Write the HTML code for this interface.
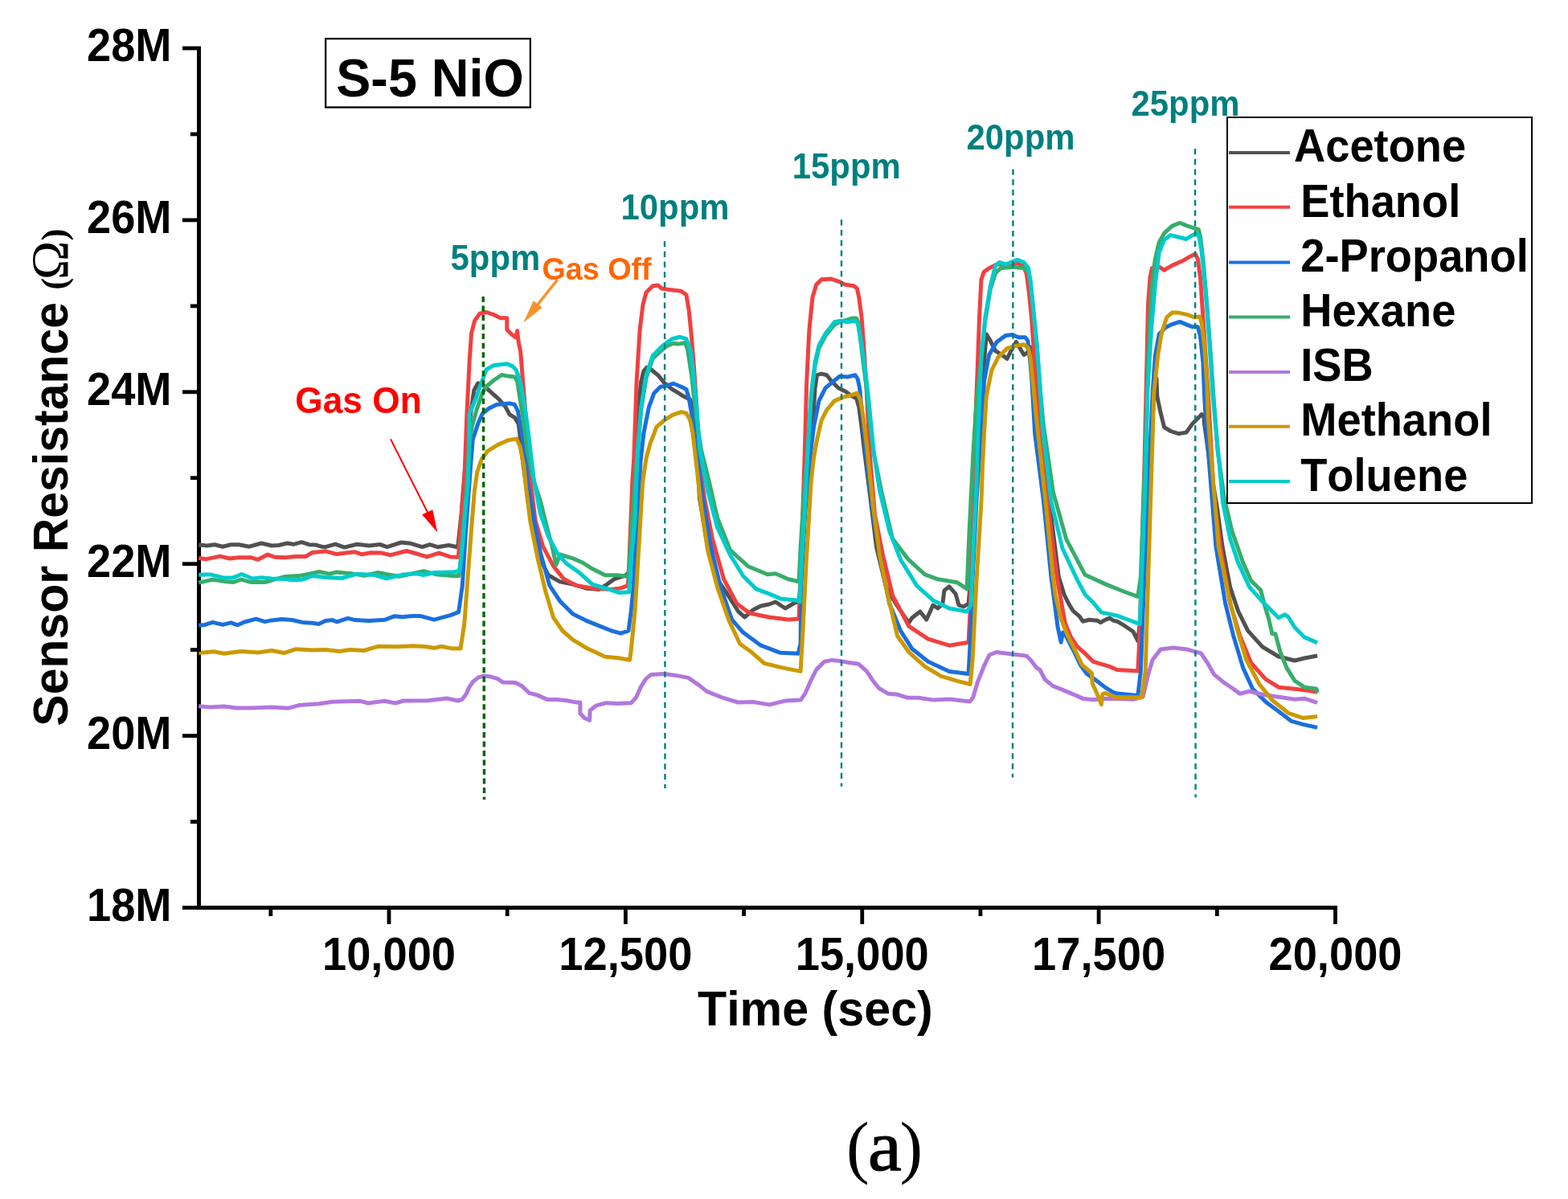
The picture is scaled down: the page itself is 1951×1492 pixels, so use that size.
<!DOCTYPE html>
<html><head><meta charset="utf-8"><title>S-5 NiO sensor response</title>
<style>html,body{margin:0;padding:0;background:#fff;} svg{display:block;} text{font-kerning:none;}</style>
</head><body>
<svg width="1951" height="1492" viewBox="0 0 1951 1492">
<rect x="0" y="0" width="1951" height="1492" fill="#fff"/>
<rect x="245" y="58" width="5" height="1074" fill="#000"/>
<rect x="245" y="1127" width="1419" height="5" fill="#000"/>
<polyline points="247.3,678.1 257.7,679.0 267.0,677.7 277.1,680.2 287.3,677.7 297.4,677.7 310.1,680.2 325.3,676.0 338.0,679.0 346.5,678.5 357.5,676.0 365.1,677.3 375.2,674.7 384.5,677.7 393.0,678.1 401.5,680.6 405.0,680.7 417.2,677.2 428.5,681.1 444.2,677.2 459.0,678.9 473.0,677.6 481.7,680.7 499.1,675.0 509.6,675.9 525.3,680.7 534.8,677.6 544.4,680.7 558.4,678.5 568.8,680.7 570.0,678.0 574.0,640.0 578.0,590.0 582.0,545.0 586.5,508.3 589.8,485.8 594.6,477.0 599.4,477.8 606.6,484.2 621.1,497.1 629.2,506.7 634.0,515.6 640.4,519.6 645.3,527.6 650.0,570.0 658.0,630.0 666.0,675.0 672.6,696.5 682.3,715.8 696.7,723.9 712.8,727.1 728.9,731.9 745.0,733.5 753.0,728.7 764.3,720.6 778.8,715.8 782.0,712.6 786.0,680.0 790.0,600.0 794.5,506.9 797.7,474.8 800.9,461.9 804.9,457.1 810.6,460.3 818.6,466.7 826.6,476.4 836.3,484.4 844.3,489.2 850.8,493.3 858.8,497.3 862.0,506.9 865.0,540.0 868.0,580.0 870.5,620.3 880.5,680.6 892.6,720.8 908.6,744.9 918.7,761.0 926.7,768.0 936.8,759.0 946.8,754.0 956.9,752.0 964.9,749.0 977.0,757.0 989.0,750.0 994.1,749.0 997.0,720.0 1001.0,650.0 1005.0,590.0 1009.0,545.0 1011.7,523.0 1014.1,482.8 1016.5,466.7 1022.2,465.1 1028.6,466.7 1035.0,474.8 1043.1,482.8 1052.7,487.6 1059.2,492.5 1065.6,495.7 1068.8,506.9 1072.0,531.1 1076.0,565.0 1080.5,600.2 1090.5,680.6 1102.6,730.9 1114.6,751.0 1130.7,775.1 1134.7,769.0 1144.8,761.0 1152.8,771.1 1160.9,753.0 1166.9,757.0 1172.9,751.0 1174.9,734.9 1181.0,729.8 1189.0,738.9 1193.0,753.0 1199.0,755.0 1205.1,751.0 1208.0,720.0 1212.0,650.0 1217.0,580.0 1221.0,530.0 1223.3,509.1 1224.9,444.8 1227.3,415.8 1232.2,423.9 1238.6,436.7 1246.6,441.6 1253.1,446.4 1257.9,436.7 1264.3,425.5 1269.2,433.5 1274.0,441.6 1278.8,438.3 1282.0,431.9 1286.0,470.0 1291.0,500.0 1296.2,530.0 1305.6,623.8 1317.3,717.7 1324.2,740.0 1330.2,752.1 1335.2,760.1 1343.3,767.1 1347.3,773.2 1355.3,771.2 1365.4,772.2 1369.4,774.7 1375.4,771.2 1380.5,769.1 1385.5,772.2 1390.0,773.2 1399.4,778.7 1410.0,786.0 1415.8,797.5 1420.0,760.0 1425.0,680.0 1430.0,590.0 1434.0,520.0 1437.0,480.0 1439.0,470.6 1439.8,493.1 1443.8,512.4 1448.6,531.7 1456.6,536.5 1466.3,539.7 1476.0,538.1 1484.0,526.9 1495.3,515.6 1497.7,517.2 1498.5,526.9 1506.5,584.8 1514.6,633.0 1521.0,680.0 1530.6,730.6 1540.7,760.7 1552.7,784.8 1570.8,804.9 1590.9,817.0 1611.0,822.0 1623.1,819.0 1639.1,816.0" fill="none" stroke="#515151" stroke-width="5.0" stroke-linejoin="round" stroke-linecap="butt"/>
<polyline points="247.3,694.2 256.0,695.9 273.8,692.1 285.6,695.0 297.4,693.8 312.7,693.8 321.1,696.3 333.0,690.0 342.3,693.3 355.0,693.8 367.6,692.5 380.3,692.5 388.8,687.4 405.0,685.9 418.1,689.4 441.6,686.8 450.3,689.8 461.6,687.7 474.7,688.1 486.0,690.7 506.1,685.5 518.3,689.0 531.3,692.9 546.2,688.1 560.1,692.9 570.3,693.3 573.7,648.3 576.1,616.0 577.7,600.0 580.9,514.8 584.1,450.4 586.5,415.0 590.6,399.0 597.0,390.1 605.0,388.5 614.7,391.7 622.7,395.7 630.8,395.7 630.8,410.2 637.2,416.6 642.0,419.9 643.6,411.8 645.3,426.3 647.7,437.6 650.0,466.5 653.3,506.7 656.5,547.0 659.0,590.0 666.2,648.3 675.8,680.4 688.7,704.6 701.6,720.6 717.6,728.7 737.0,731.9 761.1,733.5 772.3,731.9 781.2,728.7 782.0,720.6 783.6,680.4 786.8,600.0 788.8,570.0 792.1,474.8 796.1,410.4 800.1,378.3 804.1,363.8 812.2,355.7 818.6,354.9 823.4,359.0 833.1,360.6 847.6,362.2 854.0,367.0 857.2,386.3 860.4,418.5 863.6,458.7 866.9,506.9 868.8,565.0 876.5,620.3 886.5,670.6 900.6,720.8 916.7,751.0 932.8,763.0 956.9,768.0 981.0,771.1 994.1,770.0 995.1,740.9 998.1,660.5 1001.2,565.0 1003.7,474.8 1006.9,410.4 1010.9,370.2 1015.7,354.1 1022.2,347.7 1033.4,346.9 1043.1,350.1 1051.1,354.1 1062.4,355.7 1066.4,359.0 1068.8,370.2 1072.0,394.3 1074.5,426.5 1077.7,474.8 1080.1,523.0 1082.0,562.0 1088.5,640.4 1098.5,690.7 1110.6,740.9 1130.7,779.1 1154.8,795.2 1181.0,803.2 1205.1,799.2 1207.1,761.0 1209.1,660.5 1212.5,555.0 1216.0,465.0 1218.5,396.5 1220.9,348.3 1224.1,338.6 1230.6,333.8 1240.2,329.0 1256.3,329.0 1264.3,327.3 1272.4,329.8 1277.2,340.2 1280.4,364.3 1283.6,396.5 1286.9,444.8 1290.9,493.0 1294.0,530.0 1303.2,623.8 1315.0,717.7 1325.2,775.2 1332.2,792.3 1340.3,804.3 1350.3,813.4 1360.4,823.4 1370.4,826.4 1380.5,829.4 1390.0,833.5 1415.8,835.0 1418.2,788.1 1420.5,694.2 1424.0,576.9 1426.0,490.0 1428.5,378.7 1430.9,346.5 1433.3,333.6 1442.2,332.0 1448.6,336.1 1458.3,330.4 1471.1,324.8 1480.8,319.2 1487.2,316.0 1490.4,322.4 1493.6,346.5 1496.9,394.8 1500.1,443.0 1503.3,490.0 1510.5,620.0 1520.0,690.0 1530.6,750.7 1542.7,790.9 1556.7,825.0 1574.8,845.1 1590.9,855.2 1611.0,857.2 1627.1,859.2 1639.1,861.2" fill="none" stroke="#F14040" stroke-width="5.0" stroke-linejoin="round" stroke-linecap="butt"/>
<polyline points="247.3,778.2 255.1,777.4 264.5,774.4 277.1,777.4 287.3,774.8 295.7,777.8 304.2,774.0 318.6,770.2 329.6,773.6 338.0,771.9 350.7,770.6 363.4,771.5 376.1,774.4 388.8,775.3 396.4,776.5 405.0,772.5 413.7,771.6 418.9,773.8 432.9,769.4 441.6,771.6 459.0,772.5 479.1,771.2 490.4,766.8 500.9,767.7 513.9,766.4 522.6,766.4 540.1,771.2 553.1,767.7 561.8,765.1 570.6,761.6 571.6,755.0 575.3,728.7 579.3,664.3 584.1,600.0 586.0,575.0 588.2,547.0 594.6,527.6 600.2,514.8 608.3,508.3 617.9,503.5 634.0,501.9 640.4,503.5 644.4,511.5 647.7,530.9 653.3,563.0 656.5,600.0 664.6,648.3 672.6,688.5 683.9,728.7 696.7,748.0 712.8,764.1 728.9,772.1 745.0,778.6 761.1,785.0 772.3,788.2 782.0,785.0 785.2,760.9 788.4,728.7 791.6,664.3 795.7,600.0 797.0,575.0 800.9,539.1 807.3,506.9 813.8,489.2 821.8,481.2 828.3,480.4 837.9,477.2 847.6,481.2 854.0,484.4 857.2,495.7 862.0,523.0 866.4,560.0 874.5,620.3 884.5,680.6 896.6,730.9 910.7,771.1 924.7,787.1 946.8,803.2 971.0,812.3 993.1,813.3 996.1,801.2 997.1,720.8 1001.1,640.4 1005.0,600.0 1008.5,565.0 1012.5,531.1 1019.0,498.9 1027.0,482.8 1036.6,474.8 1044.7,468.3 1054.3,469.1 1064.0,466.7 1067.2,471.6 1069.6,482.8 1072.0,506.9 1075.3,539.1 1077.5,565.0 1086.5,640.4 1096.5,700.7 1106.6,751.0 1120.7,785.1 1134.7,807.2 1154.8,823.3 1181.0,835.4 1205.1,838.4 1207.1,801.2 1210.1,720.8 1215.1,620.3 1219.1,560.0 1224.1,476.9 1230.6,441.6 1240.2,425.5 1251.5,417.4 1259.5,416.6 1267.6,419.8 1275.6,419.8 1278.8,423.9 1280.4,436.7 1283.6,468.9 1287.7,540.0 1298.5,623.8 1307.9,717.7 1316.1,780.2 1320.2,799.3 1322.5,787.0 1326.0,790.5 1336.0,810.0 1344.0,827.0 1352.3,838.5 1362.4,845.5 1375.4,855.6 1385.5,861.6 1390.0,863.1 1415.8,865.5 1419.4,835.0 1422.9,741.1 1427.6,623.8 1432.3,530.0 1434.1,490.0 1437.3,443.0 1442.2,415.7 1450.2,407.6 1458.3,403.6 1467.9,400.4 1477.6,404.4 1484.0,406.8 1490.4,406.8 1493.6,418.9 1496.9,451.1 1498.5,490.0 1500.1,520.4 1506.5,600.9 1512.9,680.0 1524.6,750.7 1534.6,790.9 1546.7,831.1 1558.7,857.2 1574.8,873.3 1590.9,885.3 1607.0,897.4 1621.0,901.4 1639.1,905.4" fill="none" stroke="#1A6FDF" stroke-width="5.0" stroke-linejoin="round" stroke-linecap="butt"/>
<polyline points="247.3,725.0 264.5,721.2 278.8,723.4 289.8,724.6 300.0,721.2 312.7,724.6 329.6,724.6 342.3,720.8 355.0,717.4 371.9,716.6 384.5,714.1 397.2,711.5 410.0,714.1 418.1,712.1 435.5,713.4 452.9,716.4 470.4,712.5 481.7,714.7 496.5,717.3 527.0,710.7 544.4,715.1 566.2,716.8 571.0,716.5 574.0,690.0 578.0,640.0 582.0,590.0 585.0,545.0 587.3,530.9 593.0,510.0 600.2,489.0 605.0,481.0 614.7,473.0 624.3,466.5 632.4,468.1 640.4,468.9 643.6,474.6 650.0,514.8 656.5,563.0 664.6,600.0 672.6,624.1 680.6,656.3 687.1,680.4 691.9,703.0 696.7,690.0 712.8,694.9 724.1,699.7 737.0,707.8 753.0,715.8 769.1,715.8 782.0,717.4 783.6,696.5 787.0,640.0 790.0,600.0 793.0,565.0 797.7,510.0 804.1,470.0 812.2,446.0 828.3,431.3 837.9,427.3 844.3,428.1 852.4,426.5 855.6,434.6 860.4,466.7 866.9,523.0 872.5,560.0 882.5,600.2 892.6,644.4 908.6,684.6 930.8,704.7 954.9,714.8 964.9,713.8 981.0,720.8 994.1,723.8 996.1,680.6 1000.1,620.3 1005.1,560.0 1009.3,495.0 1014.1,455.0 1019.0,433.0 1027.0,418.0 1038.3,404.0 1046.3,400.0 1054.3,398.0 1060.8,396.0 1065.6,396.0 1068.0,402.0 1070.0,418.0 1074.0,450.0 1079.0,490.0 1083.0,530.0 1086.5,560.0 1096.5,610.3 1110.6,670.6 1130.7,696.7 1150.8,714.8 1166.9,720.8 1191.0,724.8 1203.1,732.9 1206.1,660.5 1211.1,560.0 1215.0,500.0 1220.9,448.0 1225.7,400.0 1232.2,360.0 1238.6,340.0 1245.0,333.8 1261.1,332.2 1274.0,333.8 1279.6,338.0 1282.0,350.0 1285.3,382.0 1290.1,430.0 1294.9,493.0 1298.5,530.0 1310.3,612.1 1326.7,670.8 1350.1,715.3 1376.0,727.1 1399.4,736.5 1415.8,742.3 1419.4,717.7 1422.9,623.8 1426.4,530.0 1429.0,440.0 1432.5,362.6 1437.3,322.4 1442.2,301.5 1448.6,290.2 1458.3,281.4 1467.9,277.3 1476.0,280.6 1485.6,283.8 1491.2,285.4 1493.6,295.0 1496.9,322.4 1501.7,378.7 1506.5,443.0 1509.7,490.0 1515.0,560.0 1523.3,620.0 1532.8,660.2 1546.7,700.4 1556.7,722.5 1568.8,734.6 1572.8,750.7 1578.8,770.8 1582.9,788.8 1586.9,788.8 1592.9,811.0 1601.0,831.1 1611.0,847.1 1623.1,855.2 1638.1,857.2 1639.0,862.0" fill="none" stroke="#37AD6B" stroke-width="5.0" stroke-linejoin="round" stroke-linecap="butt"/>
<polyline points="247.3,878.8 261.9,880.1 278.8,879.1 294.1,881.0 312.7,881.0 338.0,880.1 358.3,881.3 371.9,877.6 397.2,875.7 414.1,873.3 448.0,872.3 458.1,875.0 478.4,872.3 492.0,875.0 502.1,872.0 532.5,871.7 556.2,869.0 569.8,872.0 574.9,870.4 579.8,864.3 583.5,855.7 588.5,848.3 594.6,843.4 602.0,840.9 610.6,842.1 619.2,844.6 625.4,848.9 641.3,849.5 648.7,853.2 658.6,862.4 668.4,864.9 680.7,870.4 693.0,870.4 705.3,871.7 717.6,874.1 721.9,874.1 721.9,887.7 727.5,893.8 733.6,896.3 734.2,884.0 742.2,877.8 754.5,874.7 766.8,875.4 785.3,874.7 791.4,868.0 797.6,854.4 803.7,844.6 810.2,839.4 826.2,838.4 840.3,840.4 856.4,843.4 869.7,852.6 879.5,860.4 899.0,868.2 918.4,874.0 937.9,873.6 957.4,876.9 976.9,872.1 996.3,871.1 1002.2,862.3 1008.0,848.7 1015.8,833.1 1025.6,823.4 1035.3,821.4 1045.0,822.4 1054.8,824.3 1068.4,826.3 1078.2,835.1 1085.9,846.7 1093.7,856.5 1105.4,863.3 1117.1,864.3 1128.8,868.2 1142.4,868.2 1161.9,871.1 1181.4,870.1 1206.7,873.0 1210.6,868.2 1216.4,848.7 1224.2,829.2 1231.0,815.0 1239.9,811.5 1258.7,813.9 1277.4,816.2 1283.0,822.0 1289.1,830.3 1294.0,833.5 1300.1,845.5 1310.1,853.6 1320.2,857.6 1332.2,862.6 1348.3,869.6 1360.4,870.7 1375.4,869.6 1390.0,869.6 1411.1,870.2 1422.1,867.2 1428.1,841.1 1434.1,821.0 1444.2,807.9 1460.3,805.9 1476.3,807.9 1494.4,813.0 1502.5,825.0 1510.5,839.1 1522.6,849.1 1534.6,857.2 1542.7,863.2 1554.7,860.2 1570.8,864.2 1590.9,867.2 1611.0,870.3 1623.1,869.2 1639.1,874.3" fill="none" stroke="#B177DE" stroke-width="5.0" stroke-linejoin="round" stroke-linecap="butt"/>
<polyline points="247.3,812.5 266.1,810.8 278.8,813.3 300.0,810.4 321.1,812.0 338.0,809.5 353.3,812.5 367.6,807.8 388.8,809.1 405.0,808.6 422.4,810.4 435.5,808.6 452.9,809.5 470.4,804.3 492.1,804.7 513.9,803.8 531.3,804.7 540.1,806.5 548.8,804.3 561.8,806.9 573.0,807.0 577.7,777.0 582.5,712.6 587.3,648.3 590.5,610.0 593.8,587.2 599.4,571.0 606.6,561.4 619.5,553.4 632.4,547.7 642.8,546.1 646.9,555.0 651.7,579.1 654.9,610.0 659.7,648.3 669.4,696.5 679.0,736.7 688.7,768.9 700.0,785.0 712.8,796.2 728.9,805.9 753.0,817.2 769.1,818.8 783.6,821.2 785.2,809.1 790.0,760.9 794.9,680.4 799.7,600.0 804.1,570.0 809.0,552.0 817.0,531.1 826.6,523.0 836.3,516.6 847.6,512.6 854.0,514.2 858.8,523.0 862.0,539.1 864.4,560.0 872.5,630.4 880.5,684.6 892.6,730.9 906.6,771.1 920.7,801.2 934.8,811.3 950.9,825.3 971.0,830.4 991.1,834.4 996.1,835.4 998.1,801.2 1003.1,700.7 1009.1,600.2 1012.5,570.0 1016.5,547.2 1022.2,523.0 1028.6,510.2 1038.3,498.9 1049.5,494.1 1059.2,491.7 1066.4,489.2 1070.4,497.3 1073.6,515.0 1077.7,547.2 1079.5,565.0 1086.5,630.4 1094.5,690.7 1104.6,740.9 1116.6,791.2 1130.7,811.3 1150.8,829.3 1170.9,841.4 1191.0,847.4 1207.1,851.5 1210.1,821.3 1215.1,720.8 1221.2,620.3 1222.5,580.0 1224.5,540.0 1227.3,493.0 1233.8,460.9 1241.8,444.8 1253.1,433.5 1264.3,430.3 1274.0,428.7 1279.6,433.5 1282.0,444.8 1285.3,476.9 1290.1,525.2 1291.7,540.0 1300.9,623.8 1310.3,717.7 1313.1,740.0 1320.2,770.2 1328.2,790.3 1338.2,810.4 1346.3,827.4 1358.3,837.5 1359.3,850.6 1366.4,866.6 1370.4,876.7 1371.9,863.6 1375.4,862.6 1385.5,866.6 1390.0,867.6 1411.1,867.8 1420.5,867.8 1425.2,835.0 1428.7,717.7 1432.3,600.4 1434.6,530.0 1435.7,490.0 1440.6,443.0 1445.4,414.1 1451.8,394.8 1458.3,389.1 1466.3,389.1 1477.6,391.6 1485.6,394.8 1492.8,394.0 1495.3,402.8 1498.5,430.0 1501.7,475.0 1503.3,520.4 1509.7,600.9 1516.2,680.0 1528.6,740.6 1538.6,780.8 1550.7,821.0 1566.8,851.2 1582.9,871.3 1603.0,887.3 1621.0,893.4 1639.1,891.4" fill="none" stroke="#CC9900" stroke-width="5.0" stroke-linejoin="round" stroke-linecap="butt"/>
<polyline points="247.3,715.3 261.9,714.9 278.8,719.1 289.0,719.1 300.8,714.5 314.4,720.0 325.3,718.7 338.0,720.0 355.0,720.4 363.4,721.7 376.1,721.2 388.8,716.6 405.0,718.6 425.0,719.5 444.2,714.2 466.0,715.5 480.8,719.9 500.9,715.1 518.3,713.8 527.0,715.5 540.1,712.5 561.8,712.1 572.0,710.5 575.3,680.4 579.3,632.2 582.5,600.0 584.1,514.8 592.2,495.5 600.2,473.0 605.0,460.0 614.7,454.4 630.8,452.8 637.2,455.3 642.0,460.0 646.9,473.0 651.7,498.7 656.5,530.9 664.0,595.0 672.0,638.0 682.3,667.6 693.5,688.5 704.8,701.3 720.9,712.6 737.0,727.1 753.0,731.9 770.7,737.5 782.8,736.7 785.2,696.5 790.0,648.3 792.9,570.0 797.7,506.9 804.1,466.7 812.2,442.6 825.0,429.7 836.3,421.7 846.0,419.3 854.0,421.7 858.8,434.6 862.0,458.7 866.9,506.9 870.8,560.0 880.5,610.3 892.6,656.5 908.6,690.7 924.7,716.8 940.8,732.9 956.9,738.9 971.0,744.9 991.1,746.9 995.1,749.0 997.1,700.7 1001.1,640.4 1004.5,570.0 1009.3,490.9 1014.1,450.6 1019.0,429.7 1027.0,415.3 1038.3,400.8 1046.3,399.2 1054.3,400.8 1064.0,399.2 1067.2,402.4 1070.4,418.5 1075.3,450.6 1080.1,490.9 1084.9,539.1 1087.0,562.0 1094.5,610.3 1106.6,660.5 1120.7,696.7 1140.8,728.8 1160.9,747.0 1181.0,757.0 1203.1,761.0 1208.1,753.0 1211.1,680.6 1215.1,600.2 1216.8,540.0 1220.9,444.8 1225.7,396.5 1232.2,356.3 1238.6,330.6 1243.4,326.5 1251.5,329.0 1259.5,325.7 1266.0,323.3 1274.0,326.5 1279.6,333.8 1282.0,348.3 1285.3,380.4 1290.1,428.7 1294.9,493.0 1297.0,530.0 1307.9,623.8 1322.0,682.5 1340.8,722.4 1350.3,740.0 1360.4,750.1 1370.4,762.1 1380.5,764.1 1390.0,766.1 1411.1,774.0 1418.2,776.3 1420.5,717.7 1425.2,600.4 1427.7,490.0 1432.5,410.9 1437.3,354.6 1442.2,314.3 1448.6,298.3 1456.6,292.6 1466.3,295.0 1476.0,297.5 1482.4,293.4 1488.8,290.2 1492.0,295.0 1495.3,314.3 1500.1,362.6 1504.9,426.9 1508.9,490.0 1514.0,545.0 1519.4,600.9 1521.5,625.0 1530.6,670.3 1540.7,700.4 1554.7,730.6 1570.8,748.6 1586.9,764.7 1590.9,768.7 1598.9,764.7 1603.0,767.7 1611.0,780.8 1623.1,792.9 1639.1,799.9" fill="none" stroke="#00CBCC" stroke-width="5.0" stroke-linejoin="round" stroke-linecap="butt"/>
<line x1="601.2" y1="369" x2="602.5" y2="995" stroke="#006400" stroke-width="3.4" stroke-dasharray="7 4.53"/>
<line x1="827" y1="300" x2="827.5" y2="981" stroke="#007F7F" stroke-width="2.4" stroke-dasharray="7.3 5.45"/>
<line x1="1047" y1="273.3" x2="1047" y2="978.8" stroke="#007F7F" stroke-width="2.4" stroke-dasharray="7.3 5.45"/>
<line x1="1260.5" y1="210.5" x2="1260" y2="967.6" stroke="#007F7F" stroke-width="2.4" stroke-dasharray="7.3 5.45"/>
<line x1="1487" y1="185" x2="1487.6" y2="992.2" stroke="#007F7F" stroke-width="2.4" stroke-dasharray="7.3 5.45"/>
<rect x="227" y="57.60" width="23" height="4.8" fill="#000"/>
<text transform="translate(213.60,76.00) scale(1,1.0405)" font-family='"Liberation Sans", Arial, sans-serif' font-size="54.3" font-weight="bold" fill="#000" text-anchor="end" >28M</text>
<rect x="227" y="271.50" width="23" height="4.8" fill="#000"/>
<text transform="translate(213.60,289.90) scale(1,1.0405)" font-family='"Liberation Sans", Arial, sans-serif' font-size="54.3" font-weight="bold" fill="#000" text-anchor="end" >26M</text>
<rect x="227" y="485.40" width="23" height="4.8" fill="#000"/>
<text transform="translate(213.60,503.80) scale(1,1.0405)" font-family='"Liberation Sans", Arial, sans-serif' font-size="54.3" font-weight="bold" fill="#000" text-anchor="end" >24M</text>
<rect x="227" y="699.30" width="23" height="4.8" fill="#000"/>
<text transform="translate(213.60,717.70) scale(1,1.0405)" font-family='"Liberation Sans", Arial, sans-serif' font-size="54.3" font-weight="bold" fill="#000" text-anchor="end" >22M</text>
<rect x="227" y="913.20" width="23" height="4.8" fill="#000"/>
<text transform="translate(213.60,931.60) scale(1,1.0405)" font-family='"Liberation Sans", Arial, sans-serif' font-size="54.3" font-weight="bold" fill="#000" text-anchor="end" >20M</text>
<rect x="227" y="1127.10" width="23" height="4.8" fill="#000"/>
<text transform="translate(213.60,1145.50) scale(1,1.0405)" font-family='"Liberation Sans", Arial, sans-serif' font-size="54.3" font-weight="bold" fill="#000" text-anchor="end" >18M</text>
<rect x="237" y="164.55" width="13" height="4.8" fill="#000"/>
<rect x="237" y="378.45" width="13" height="4.8" fill="#000"/>
<rect x="237" y="592.35" width="13" height="4.8" fill="#000"/>
<rect x="237" y="806.25" width="13" height="4.8" fill="#000"/>
<rect x="237" y="1020.15" width="13" height="4.8" fill="#000"/>
<rect x="481.60" y="1127" width="4.8" height="23" fill="#000"/>
<text transform="translate(484.00,1206.50) scale(1,1.0405)" font-family='"Liberation Sans", Arial, sans-serif' font-size="54.3" font-weight="bold" fill="#000" text-anchor="middle" >10,000</text>
<rect x="775.98" y="1127" width="4.8" height="23" fill="#000"/>
<text transform="translate(778.38,1206.50) scale(1,1.0405)" font-family='"Liberation Sans", Arial, sans-serif' font-size="54.3" font-weight="bold" fill="#000" text-anchor="middle" >12,500</text>
<rect x="1070.35" y="1127" width="4.8" height="23" fill="#000"/>
<text transform="translate(1072.75,1206.50) scale(1,1.0405)" font-family='"Liberation Sans", Arial, sans-serif' font-size="54.3" font-weight="bold" fill="#000" text-anchor="middle" >15,000</text>
<rect x="1364.72" y="1127" width="4.8" height="23" fill="#000"/>
<text transform="translate(1367.12,1206.50) scale(1,1.0405)" font-family='"Liberation Sans", Arial, sans-serif' font-size="54.3" font-weight="bold" fill="#000" text-anchor="middle" >17,500</text>
<rect x="1659.10" y="1127" width="4.8" height="23" fill="#000"/>
<text transform="translate(1661.50,1206.50) scale(1,1.0405)" font-family='"Liberation Sans", Arial, sans-serif' font-size="54.3" font-weight="bold" fill="#000" text-anchor="middle" >20,000</text>
<rect x="334.41" y="1127" width="4.8" height="13" fill="#000"/>
<rect x="628.79" y="1127" width="4.8" height="13" fill="#000"/>
<rect x="923.16" y="1127" width="4.8" height="13" fill="#000"/>
<rect x="1217.54" y="1127" width="4.8" height="13" fill="#000"/>
<rect x="1511.91" y="1127" width="4.8" height="13" fill="#000"/>
<text transform="translate(868.00,1275.90) scale(1,1.0405)" font-family='"Liberation Sans", Arial, sans-serif' font-size="59.2" font-weight="bold" fill="#000" text-anchor="start" >Time (sec)</text>
<g transform="translate(83.5,594.5) rotate(-90)"><text transform="translate(-309.20,0.00) scale(1,1.0405)" font-family='"Liberation Sans", Arial, sans-serif' font-size="59.0" font-weight="bold" fill="#000" text-anchor="start" >Sensor Resistance</text><text x="233.7" y="-1.2" font-family='"Liberation Serif", "Times New Roman", serif' font-size="45.2" font-weight="bold" fill="#000">(</text><text x="246.4" y="0.5" font-family='"Liberation Serif", "Times New Roman", serif' font-size="65" fill="#000">&#937;</text><text x="294.9" y="-1.2" font-family='"Liberation Serif", "Times New Roman", serif' font-size="45.2" font-weight="bold" fill="#000">)</text></g>
<rect x="405.15" y="48.15" width="254.7" height="85.4" fill="none" stroke="#000" stroke-width="2.3"/>
<text transform="translate(418.20,120.10) scale(1,1.0405)" font-family='"Liberation Sans", Arial, sans-serif' font-size="64.7" font-weight="bold" fill="#000" text-anchor="start" >S-5 NiO</text>
<rect x="1527" y="146" width="379" height="480" fill="#fff" stroke="#000" stroke-width="2"/>
<line x1="1529" y1="190" x2="1605" y2="190" stroke="#515151" stroke-width="4"/>
<text transform="translate(1610.00,200.70) scale(1,1.0405)" font-family='"Liberation Sans", Arial, sans-serif' font-size="54.3" font-weight="bold" fill="#000" text-anchor="start" >Acetone</text>
<line x1="1529" y1="257.8" x2="1605" y2="257.8" stroke="#F14040" stroke-width="4"/>
<text transform="translate(1618.20,270.30) scale(1,1.0405)" font-family='"Liberation Sans", Arial, sans-serif' font-size="54.3" font-weight="bold" fill="#000" text-anchor="start" >Ethanol</text>
<line x1="1529" y1="326.5" x2="1605" y2="326.5" stroke="#1A6FDF" stroke-width="4"/>
<text transform="translate(1618.20,338.00) scale(1,1.0405)" font-family='"Liberation Sans", Arial, sans-serif' font-size="54.3" font-weight="bold" fill="#000" text-anchor="start" >2-Propanol</text>
<line x1="1529" y1="394.5" x2="1605" y2="394.5" stroke="#37AD6B" stroke-width="4"/>
<text transform="translate(1618.20,406.00) scale(1,1.0405)" font-family='"Liberation Sans", Arial, sans-serif' font-size="54.3" font-weight="bold" fill="#000" text-anchor="start" >Hexane</text>
<line x1="1529" y1="463" x2="1605" y2="463" stroke="#B177DE" stroke-width="4"/>
<text transform="translate(1618.20,474.00) scale(1,1.0405)" font-family='"Liberation Sans", Arial, sans-serif' font-size="54.3" font-weight="bold" fill="#000" text-anchor="start" >ISB</text>
<line x1="1529" y1="530.8" x2="1605" y2="530.8" stroke="#CC9900" stroke-width="4"/>
<text transform="translate(1618.20,542.30) scale(1,1.0405)" font-family='"Liberation Sans", Arial, sans-serif' font-size="54.3" font-weight="bold" fill="#000" text-anchor="start" >Methanol</text>
<line x1="1529" y1="599" x2="1605" y2="599" stroke="#00CBCC" stroke-width="4"/>
<text transform="translate(1618.20,610.50) scale(1,1.0405)" font-family='"Liberation Sans", Arial, sans-serif' font-size="54.3" font-weight="bold" fill="#000" text-anchor="start" >Toluene</text>
<text transform="translate(560.50,335.70) scale(1,1.0405)" font-family='"Liberation Sans", Arial, sans-serif' font-size="41.9" font-weight="bold" fill="#007F7F" text-anchor="start" >5ppm</text>
<text transform="translate(772.50,273.30) scale(1,1.0405)" font-family='"Liberation Sans", Arial, sans-serif' font-size="41.9" font-weight="bold" fill="#007F7F" text-anchor="start" >10ppm</text>
<text transform="translate(985.70,222.00) scale(1,1.0405)" font-family='"Liberation Sans", Arial, sans-serif' font-size="41.9" font-weight="bold" fill="#007F7F" text-anchor="start" >15ppm</text>
<text transform="translate(1202.50,185.90) scale(1,1.0405)" font-family='"Liberation Sans", Arial, sans-serif' font-size="41.9" font-weight="bold" fill="#007F7F" text-anchor="start" >20ppm</text>
<text transform="translate(1407.50,144.00) scale(1,1.0405)" font-family='"Liberation Sans", Arial, sans-serif' font-size="41.9" font-weight="bold" fill="#007F7F" text-anchor="start" >25ppm</text>
<text transform="translate(367.30,513.60) scale(1,1.0405)" font-family='"Liberation Sans", Arial, sans-serif' font-size="44.3" font-weight="bold" fill="#FF0000" text-anchor="start" >Gas On</text>
<text transform="translate(674.50,348.10) scale(1,1.0405)" font-family='"Liberation Sans", Arial, sans-serif' font-size="37.7" font-weight="bold" fill="#FF6600" text-anchor="start" >Gas Off</text>
<line x1="486" y1="546.4" x2="532" y2="637.5" stroke="#FF0000" stroke-width="2"/>
<polygon points="544.3,662.4 525.1,640.2 538.3,634.2" fill="#FF0000"/>
<line x1="693.5" y1="348.2" x2="669" y2="379" stroke="#F7932B" stroke-width="3.5"/>
<polygon points="651.3,401.5 663.7,374.3 674.7,382.7" fill="#F7932B"/>
<text x="1053.1" y="1455.6" font-family='"Liberation Serif", "Times New Roman", serif' font-size="85.9" fill="#000">(</text>
<text transform="translate(1080.1,1455.6) scale(1.07,1)" font-family='"Liberation Serif", "Times New Roman", serif' font-size="88" fill="#000" stroke="#000" stroke-width="1.2">a</text>
<text x="1119.4" y="1455.6" font-family='"Liberation Serif", "Times New Roman", serif' font-size="85.9" fill="#000">)</text>
</svg>
</body></html>
